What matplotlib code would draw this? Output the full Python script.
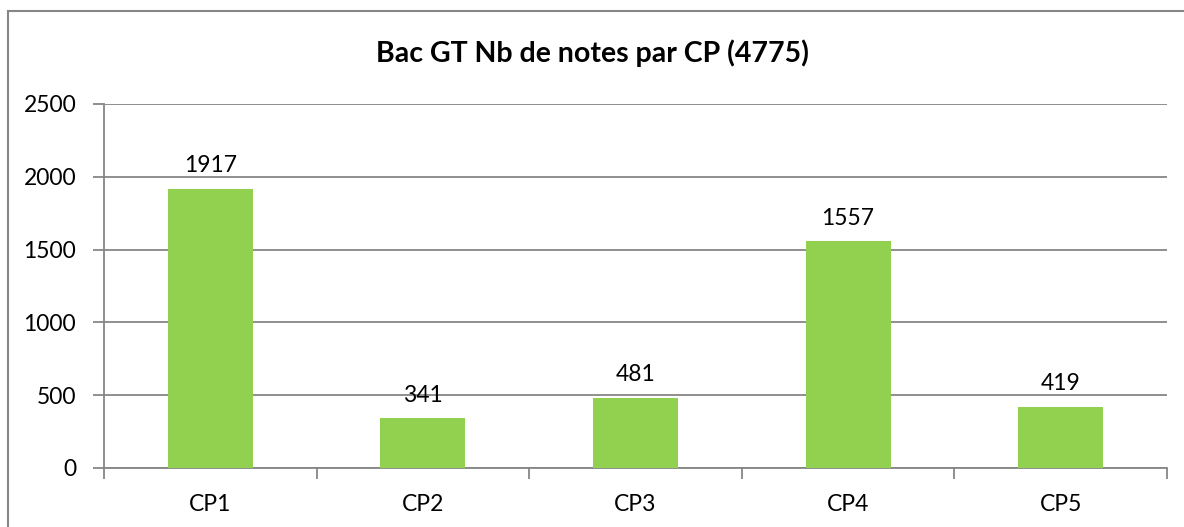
import matplotlib.pyplot as plt
from matplotlib.patches import Rectangle

# Data
categories = ['CP1', 'CP2', 'CP3', 'CP4', 'CP5']
counts = [1917, 341, 481, 1557, 419]
y_ticks = [0, 500, 1000, 1500, 2000, 2500]

plt.rcParams['font.family'] = ['Lato', 'DejaVu Sans']

fig = plt.figure(figsize=(11.84, 5.27), dpi=100)
ax = fig.add_axes([104 / 1184, 1 - 468 / 527, (1167 - 104) / 1184, (468 - 104) / 527])

grey = '#868686'

# outer chart frame (runs off the right and bottom edges)
fig.patches.append(Rectangle((8 / 1184, -0.05), 1.2, 1 - 11 / 527 + 0.05,
                             transform=fig.transFigure, fill=False,
                             edgecolor=grey, linewidth=1.5))

x = list(range(len(categories)))
bars = ax.bar(x, counts, width=0.4, color='#92D050', zorder=3)
for xi, v in zip(x, counts):
    ax.annotate(str(v), (xi, v), xytext=(0, 9), textcoords='offset points',
                ha='center', va='bottom', fontsize=16.5)

ax.set_xlim(-0.5, len(categories) - 0.5)
ax.set_ylim(0, 2500)
ax.set_yticks(y_ticks)
ax.set_yticklabels([str(t) for t in y_ticks], fontsize=16.5)
ax.set_xticks(x)
ax.set_xticklabels(categories, fontsize=16.5)
ax.tick_params(axis='x', length=0, pad=19)
ax.set_xticks([i - 0.5 for i in range(len(categories) + 1)], minor=True)
ax.tick_params(axis='x', which='minor', length=8, width=1.3, color=grey)
ax.tick_params(axis='y', length=8, width=1.3, color=grey, pad=12)

ax.grid(axis='y', color=grey, linewidth=1.3, zorder=0)
for side in ['top', 'right']:
    ax.spines[side].set_visible(False)
for side in ['left', 'bottom']:
    ax.spines[side].set_color(grey)
    ax.spines[side].set_linewidth(1.3)

fig.text(0.5, 1 - 53 / 527, 'Bac GT Nb de notes par CP (4775)', ha='center',
         va='center', fontsize=20.5, fontweight='bold')

fig.savefig('out.png', dpi=100)
